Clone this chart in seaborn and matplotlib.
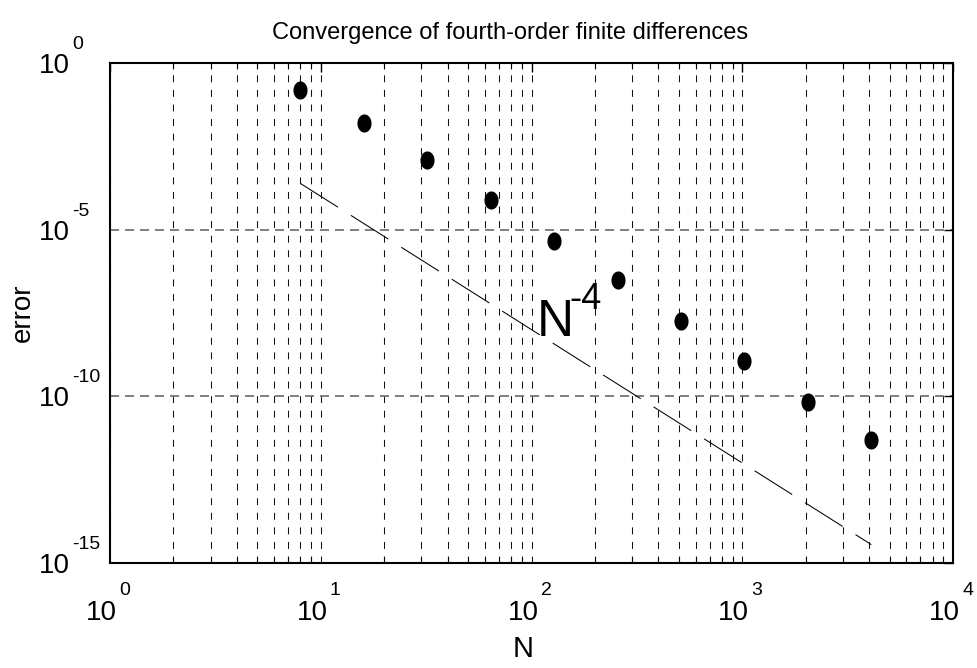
import numpy as np
import pandas as pd
import matplotlib
matplotlib.use("Agg")
import matplotlib.pyplot as plt
import matplotlib.transforms as mtransforms
from matplotlib.path import Path
import seaborn as sns
from matplotlib.ticker import LogLocator, FixedLocator, NullLocator

sns.set_style("white")
plt.rcParams['font.family'] = ['Liberation Sans', 'DejaVu Sans']
plt.rcParams['text.color'] = 'black'
plt.rcParams['axes.labelcolor'] = 'black'
plt.rcParams['lines.scale_dashes'] = False

n_vals = [8, 16, 32, 64, 128, 256, 512, 1024, 2048, 4096]
err_vals = [1.5e-1, 1.55e-2, 1.2e-3, 7.7e-5, 4.5e-6, 3.0e-7, 1.8e-8, 1.15e-9, 6.7e-11, 5.0e-12]

# reference slope N^-4
ref_n = [8, 4096]
ref_err = [8.0 ** -4, 4096.0 ** -4]

x_ticks = [1, 10, 100, 1000, 10000]
x_exps = ['0', '1', '2', '3', '4']
y_ticks = [1, 1e-5, 1e-10, 1e-15]
y_exps = ['0', '-5', '-10', '-15']

df = pd.DataFrame({'N': n_vals, 'error': err_vals})
ref = pd.DataFrame({'N': ref_n, 'error': ref_err})

fig = plt.figure(figsize=(9.78, 6.68), dpi=100)
ax = fig.add_axes([0.1125, 0.1572, 0.862, 0.7485])
ax.set_xscale('log')
ax.set_yscale('log')

sns.lineplot(data=ref, x='N', y='error', ax=ax, color='black', linewidth=0.75,
             zorder=3)
ax.lines[-1].set_dashes((32, 11))

# slightly tall dots like the original
t = np.linspace(0, 2 * np.pi, 60)
dot = Path(np.column_stack([0.78 * np.cos(t), np.sin(t)]), closed=True)
sns.scatterplot(data=df, x='N', y='error', ax=ax, color='black', s=170,
                marker=dot, edgecolor='black', linewidth=0, zorder=4)

ax.set_xlim(1, 1e4)
ax.set_ylim(1e-15, 1)

ax.xaxis.set_major_locator(FixedLocator(x_ticks))
ax.xaxis.set_minor_locator(LogLocator(base=10, subs=np.arange(2, 10), numticks=20))
ax.yaxis.set_major_locator(FixedLocator(y_ticks))
ax.yaxis.set_minor_locator(NullLocator())

ax.tick_params(axis='both', which='major', direction='in', length=6.5, width=1,
               top=True, right=True, color='black',
               labelbottom=False, labelleft=False)
ax.tick_params(axis='x', which='minor', direction='in', length=4.3, width=0.8,
               top=True, bottom=True, color='black')

ax.grid(True, which='major', axis='y', linestyle=(0, (6.5, 4.3)), color='#6a6a6a', linewidth=1.2)
ax.grid(True, which='both', axis='x', linestyle=(0, (5, 5.5)), color='#111111', linewidth=0.75)
ax.set_axisbelow(True)

for s in ax.spines.values():
    s.set_color('black')
    s.set_linewidth(1.5)

# tick labels as 10 with a raised exponent
xt = ax.get_xaxis_transform()
for xv, e in zip(x_ticks, x_exps):
    ax.text(xv, 0, '10', fontsize=20, ha='right', va='baseline',
            transform=mtransforms.offset_copy(xt, fig=fig, x=7, y=-57, units='dots'))
    ax.text(xv, 0, e, fontsize=14, ha='left', va='baseline',
            transform=mtransforms.offset_copy(xt, fig=fig, x=9, y=-32, units='dots'))
yt = ax.get_yaxis_transform()
for yv, e in zip(y_ticks, y_exps):
    ax.text(0, yv, '10', fontsize=20, ha='right', va='center_baseline',
            transform=mtransforms.offset_copy(yt, fig=fig, x=-40, y=0, units='dots'))
    ax.text(0, yv, e, fontsize=14, ha='left', va='baseline',
            transform=mtransforms.offset_copy(yt, fig=fig, x=-38, y=14, units='dots'))

ax.text(106, 6.4e-9, 'N', fontsize=37, ha='left', va='baseline')
ax.text(152, 4.2e-8, '-4', fontsize=26, ha='left', va='baseline')

ax.set_title('Convergence of fourth-order finite differences', fontsize=17,
             x=0.4745, y=1.048, va='baseline', pad=0)
ax.set_xlabel('N', fontsize=21)
ax.xaxis.set_label_coords(0.49, -0.144)
ax.set_ylabel('error', fontsize=20)
ax.yaxis.set_label_coords(-0.088, 0.5)

plt.savefig('out.png', dpi=100)
